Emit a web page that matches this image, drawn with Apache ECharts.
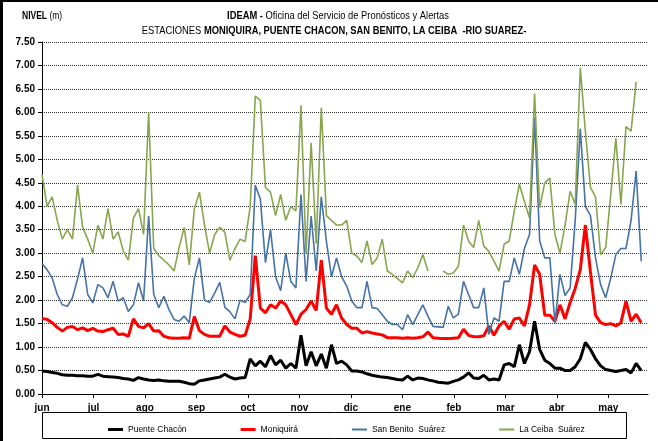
<!DOCTYPE html>
<html>
<head>
<meta charset="utf-8">
<script src="https://cdn.jsdelivr.net/npm/echarts@6/dist/echarts.min.js"></script>
<style>
  html, body { margin: 0; padding: 0; background: #fff; }
  #chart { width: 658px; height: 441px; }
</style>
</head>
<body>
<div id="chart"></div>
<script>
// River level (m) at four Rio Suarez stations, one reading every 3 days from 1 June.
const STEP_DAYS = 3;
const monthLabels = ['jun', 'jul', 'ago', 'sep', 'oct', 'nov', 'dic', 'ene', 'feb', 'mar', 'abr', 'may'];
const seriesNames = ['Puente Chacón', 'Moniquirá', 'San Benito  Suárez', 'La Ceiba  Suárez'];

const puenteChacon = [
  0.49, 0.48, 0.46, 0.44, 0.41, 0.40, 0.40, 0.39, 0.39, 0.38, 0.38, 0.42, 0.38, 0.37, 0.36, 0.35,
  0.33, 0.32, 0.29, 0.35, 0.32, 0.30, 0.29, 0.30, 0.28, 0.27, 0.27, 0.27, 0.25, 0.22, 0.21,
  0.28, 0.30, 0.32, 0.34, 0.36, 0.42, 0.36, 0.32, 0.34, 0.35, 0.75, 0.60, 0.70, 0.58, 0.82,
  0.62, 0.72, 0.55, 0.65, 0.55, 1.25, 0.60, 0.90, 0.60, 0.85, 0.55, 1.05, 0.65, 0.70, 0.62,
  0.49, 0.49, 0.47, 0.43, 0.40, 0.38, 0.36, 0.35, 0.33, 0.31, 0.30, 0.38, 0.30, 0.34, 0.33,
  0.30, 0.28, 0.25, 0.24, 0.23, 0.27, 0.30, 0.36, 0.45, 0.34, 0.33, 0.40, 0.30, 0.32, 0.30,
  0.62, 0.65, 0.58, 1.05, 0.65, 0.90, 1.55, 0.95, 0.72, 0.65, 0.55, 0.55, 0.50, 0.50, 0.58,
  0.75, 1.10, 0.95, 0.75, 0.60, 0.52, 0.50, 0.48, 0.50, 0.52, 0.45, 0.65, 0.50
];

const moniquira = [
  1.61, 1.59, 1.52, 1.42, 1.34, 1.42, 1.44, 1.37, 1.41, 1.35, 1.40, 1.34, 1.33, 1.37, 1.40, 1.27,
  1.28, 1.23, 1.60, 1.44, 1.41, 1.50, 1.34, 1.35, 1.23, 1.20, 1.19, 1.19, 1.20, 1.19, 1.65,
  1.35, 1.27, 1.23, 1.23, 1.23, 1.45, 1.32, 1.27, 1.23, 1.25, 1.60, 2.95, 1.83, 1.73, 1.90,
  1.83, 1.98, 1.90, 1.69, 1.48, 1.70, 1.80, 1.98, 1.78, 2.85, 1.83, 1.70, 1.90, 1.62, 1.48,
  1.40, 1.40, 1.30, 1.33, 1.30, 1.28, 1.26, 1.20, 1.20, 1.20, 1.19, 1.20, 1.19, 1.20, 1.22,
  1.32, 1.20, 1.19, 1.18, 1.18, 1.19, 1.20, 1.38, 1.25, 1.22, 1.22, 1.24, 1.45, 1.25, 1.45,
  1.55, 1.38, 1.60, 1.62, 1.45, 1.90, 2.75, 2.55, 1.68, 1.68, 1.55, 1.90, 1.60, 1.95, 2.25,
  2.65, 3.60, 2.60, 1.68, 1.52, 1.48, 1.50, 1.45, 1.52, 1.98, 1.55, 1.70, 1.52
];

const sanBenito = [
  2.78, 2.65, 2.47, 2.12, 1.90, 1.87, 2.05, 2.45, 2.90, 2.12, 1.94, 2.33, 2.26, 2.05, 2.40, 1.98,
  2.05, 1.76, 1.90, 2.37, 1.98, 3.79, 2.12, 1.84, 2.08, 1.80, 1.59, 1.55, 1.66, 1.52, 2.47,
  2.90, 2.00, 1.95, 2.15, 2.38, 1.85, 1.75, 1.60, 2.00, 1.95, 2.12, 4.45, 4.15, 2.80, 3.50,
  2.50, 2.20, 3.00, 2.40, 2.26, 4.25, 2.40, 3.79, 2.62, 4.20, 3.26, 2.50, 2.90, 2.50, 2.30,
  1.98, 1.84, 1.84, 2.40, 1.84, 1.82, 1.69, 1.55, 1.48, 1.48, 1.37, 1.69, 1.48, 1.69, 1.90,
  1.66, 1.44, 1.43, 1.42, 1.87, 1.62, 1.70, 2.40, 2.12, 1.84, 1.84, 2.26, 1.27, 1.62, 1.55,
  2.40, 2.40, 2.90, 2.55, 3.10, 3.40, 5.90, 3.26, 2.90, 2.90, 1.50, 2.55, 2.10, 2.26, 3.70,
  5.65, 4.00, 3.80, 2.90, 2.33, 2.05, 2.47, 2.97, 3.10, 3.10, 3.70, 4.75, 2.83
];

const laCeiba = [
  4.68, 4.00, 4.20, 3.70, 3.30, 3.50, 3.30, 4.45, 3.55, 3.30, 3.00, 3.60, 3.30, 3.95, 3.30, 3.45,
  3.05, 2.85, 3.75, 3.95, 3.40, 6.00, 3.10, 2.95, 2.85, 2.75, 2.62, 3.12, 3.55, 2.75, 3.95,
  4.30, 3.60, 3.00, 3.40, 3.55, 3.45, 2.85, 3.10, 3.30, 3.25, 4.00, 6.35, 6.25, 4.40, 4.30,
  3.80, 4.25, 3.70, 4.00, 3.90, 6.15, 3.00, 5.35, 3.20, 6.10, 3.80, 3.70, 3.60, 3.60, 3.70,
  3.00, 2.94, 2.80, 3.26, 2.76, 2.90, 3.30, 2.62, 2.55, 2.46, 2.37, 2.62, 2.48, 2.69, 2.97,
  2.62, null, null, 2.62, 2.55, 2.58, 2.72, 3.60, 3.26, 3.12, 3.70, 3.15, 3.04, 2.83, 2.62,
  3.19, 3.26, 3.90, 4.47, 4.10, 3.75, 6.40, 3.97, 4.50, 4.60, 3.40, 3.00, 3.60, 4.32, 4.04,
  6.95, 5.60, 4.40, 4.20, 2.97, 3.12, 4.25, 5.45, 4.04, 5.70, 5.60, 6.65, null
];

const seriesColors = ['#000000', '#ff0000', '#4572a7', '#89a54e'];
const seriesWidths = [3, 3, 1.6, 1.6];
// legend swatches: thick bars for the first two stations, thin ones for the others
const legendIcons = [
  'path://M0,0H15V3H0Z', 'path://M0,0H15V3H0Z',
  'path://M0,0H15V2H0Z', 'path://M0,0H15V2H0Z'
];

const DAYS_SHOWN = 358;
const DAYS_PER_MONTH = 365 / 12;
const monthTicks = monthLabels.map((_, i) => i * DAYS_PER_MONTH);

const FONT = "'Liberation Sans', Arial, sans-serif";

function toPairs(values) {
  return values.map((v, i) => [i * STEP_DAYS, v]);
}

const chart = echarts.init(document.getElementById('chart'), null, { renderer: 'canvas' });

const allValues = [puenteChacon, moniquira, sanBenito, laCeiba];

chart.setOption({
  animation: false,
  backgroundColor: '#ffffff',
  grid: { left: 42, right: 10, top: 42, bottom: 47, containLabel: false },
  xAxis: {
    type: 'value',
    min: 0,
    max: DAYS_SHOWN,
    axisLine: { show: true, lineStyle: { color: '#000', width: 1 } },
    axisTick: { show: true, length: 4, lineStyle: { color: '#000' }, customValues: monthTicks },
    axisLabel: {
      customValues: monthTicks,
      formatter: (v) => monthLabels[Math.round(v / DAYS_PER_MONTH)] || '',
      color: '#000', fontFamily: FONT, fontWeight: 'bold', fontSize: 10, margin: 9
    },
    splitLine: { show: false }
  },
  yAxis: {
    type: 'value',
    min: 0,
    max: 7.5,
    interval: 0.5,
    axisLine: { show: true, lineStyle: { color: '#000', width: 1 } },
    axisTick: { show: true, length: 4, lineStyle: { color: '#000' } },
    axisLabel: {
      formatter: (v) => v.toFixed(2),
      color: '#000', fontFamily: FONT, fontWeight: 'bold', fontSize: 10, margin: 7
    },
    splitLine: { show: true, lineStyle: { color: '#333', width: 1, type: [1, 1] } }
  },
  legend: {
    left: 103,
    top: 420,
    itemGap: 54,
    itemWidth: 15,
    itemHeight: 3,
    textStyle: { color: '#000', fontFamily: FONT, fontSize: 8.5 },
    data: seriesNames.map((name, i) => ({ name, icon: legendIcons[i] }))
  },
  series: seriesNames.map((name, i) => ({
    name,
    type: 'line',
    data: toPairs(allValues[i]),
    symbol: 'none',
    showSymbol: false,
    connectNulls: false,
    color: seriesColors[i],
    lineStyle: { color: seriesColors[i], width: seriesWidths[i] },
    emphasis: { disabled: true }
  })),
  graphic: [
    { type: 'rect', shape: { x: 0, y: 0, width: 3, height: 441 }, style: { fill: '#000' }, silent: true },
    { type: 'rect', shape: { x: 0, y: 0, width: 658, height: 2 }, style: { fill: '#000' }, silent: true },
    { type: 'rect', shape: { x: 42.5, y: 412.5, width: 584, height: 26 }, style: { fill: 'none', stroke: '#000', lineWidth: 1 }, silent: true },
    {
      type: 'text', x: 22, y: 16, scaleX: 0.85, silent: true,
      style: {
        text: '{b|NIVEL} (m)', fill: '#000', font: '10px ' + FONT, verticalAlign: 'middle',
        rich: { b: { fontWeight: 'bold', fontSize: 10, fontFamily: FONT, fill: '#000' } }
      }
    },
    {
      type: 'text', x: 338, y: 16, scaleX: 0.85, silent: true,
      style: {
        text: '{b|IDEAM -} Oficina del Servicio de Pronósticos y Alertas', fill: '#000',
        font: '11px ' + FONT, align: 'center', verticalAlign: 'middle',
        rich: { b: { fontWeight: 'bold', fontSize: 11, fontFamily: FONT, fill: '#000' } }
      }
    },
    {
      type: 'text', x: 334, y: 31, scaleX: 0.85, silent: true,
      style: {
        text: 'ESTACIONES {b|MONIQUIRA, PUENTE CHACON, SAN BENITO, LA CEIBA  -RIO SUAREZ-}', fill: '#000',
        font: '11px ' + FONT, align: 'center', verticalAlign: 'middle',
        rich: { b: { fontWeight: 'bold', fontSize: 11, fontFamily: FONT, fill: '#000' } }
      }
    }
  ]
});
</script>
</body>
</html>
